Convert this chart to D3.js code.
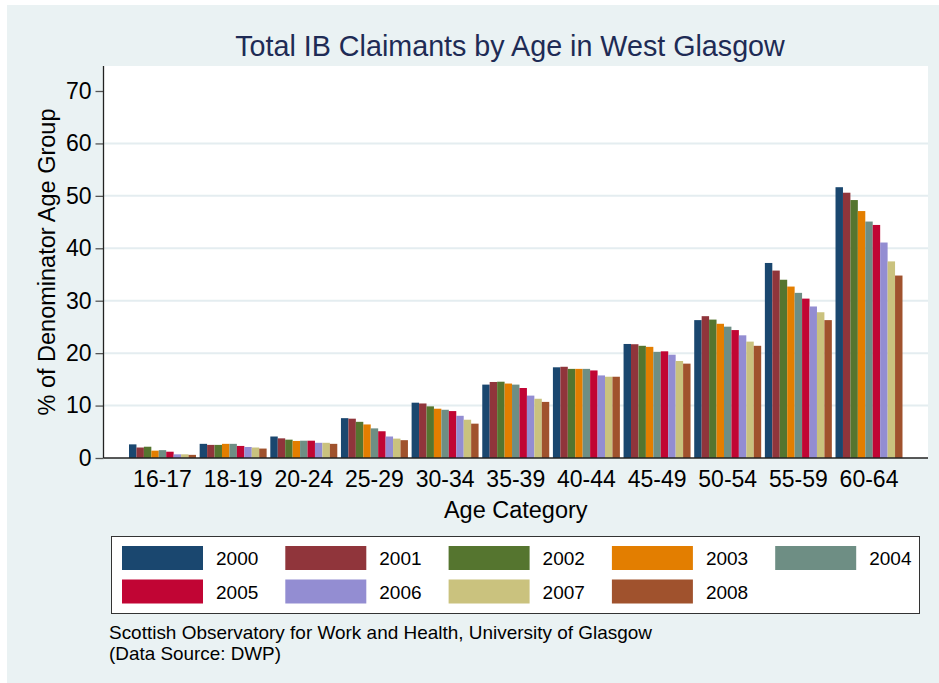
<!DOCTYPE html>
<html>
<head>
<meta charset="utf-8">
<script src="https://cdn.jsdelivr.net/npm/d3@7"></script>
<style>
  html, body { margin: 0; padding: 0; background: #ffffff; }
  svg { display: block; font-family: "Liberation Sans", Arial, Helvetica, sans-serif; }
</style>
</head>
<body>
<svg id="chart" width="939" height="683"></svg>
<script>
// ---- data ----
const categories = ["16-17","18-19","20-24","25-29","30-34","35-39","40-44","45-49","50-54","55-59","60-64"];
const years = ["2000","2001","2002","2003","2004","2005","2006","2007","2008"];
const v2000 = [2.6, 2.7, 4.1, 7.6, 10.55, 14.0, 17.3, 21.75, 26.3, 37.2, 51.65];
const v2001 = [2.0, 2.5, 3.75, 7.5, 10.4, 14.5, 17.4, 21.7, 27.05, 35.75, 50.6];
const v2002 = [2.15, 2.5, 3.5, 6.9, 9.85, 14.55, 17.0, 21.4, 26.4, 34.0, 49.2];
const v2003 = [1.4, 2.7, 3.25, 6.4, 9.4, 14.2, 17.0, 21.2, 25.6, 32.7, 47.1];
const v2004 = [1.5, 2.7, 3.3, 5.65, 9.2, 14.0, 17.0, 20.25, 25.05, 31.5, 45.1];
const v2005 = [1.2, 2.3, 3.3, 5.1, 8.95, 13.35, 16.7, 20.35, 24.4, 30.4, 44.45];
const v2006 = [0.7, 2.1, 2.9, 4.1, 8.05, 11.9, 15.75, 19.7, 23.4, 28.9, 41.1];
const v2007 = [0.7, 2.0, 2.9, 3.7, 7.3, 11.3, 15.5, 18.5, 22.2, 27.8, 37.5];
const v2008 = [0.6, 1.8, 2.7, 3.4, 6.55, 10.7, 15.5, 18.0, 21.4, 26.3, 34.8];
const seriesValues = [v2000, v2001, v2002, v2003, v2004, v2005, v2006, v2007, v2008];
const colors = ["#1a476f","#90353b","#55752f","#e37e00","#6e8e84","#c10534","#938dd2","#cac27e","#a0522d"];
const yTicks = [0, 10, 20, 30, 40, 50, 60, 70];
const gridTicks = [10, 20, 30, 40, 50, 60];

const titleText = "Total IB Claimants by Age in West Glasgow";
const yTitle = "% of Denominator Age Group";
const xTitle = "Age Category";
const note1 = "Scottish Observatory for Work and Health, University of Glasgow";
const note2 = "(Data Source: DWP)";

// ---- layout ----
const svg = d3.select("#chart");
const bg = "#eaf2f3";
const plot = { left: 103.5, right: 928, top: 66, bottom: 458 };

svg.append("rect").attr("x", 7).attr("y", 5).attr("width", 932).attr("height", 678).attr("fill", bg);
svg.append("rect").attr("x", plot.left).attr("y", plot.top)
  .attr("width", plot.right - plot.left).attr("height", plot.bottom - plot.top).attr("fill", "#ffffff");

const y = d3.scaleLinear().domain([0, 70]).range([plot.bottom, 91]);
const x0 = d3.scaleBand().domain(categories).range([plot.left, plot.right])
  .paddingInner(0.052).paddingOuter(0.361);
const x1 = d3.scaleBand().domain(years).range([0, x0.bandwidth()]).padding(0);

// gridlines
svg.append("g").selectAll("line").data(gridTicks).join("line")
  .attr("x1", plot.left).attr("x2", plot.right)
  .attr("y1", d => y(d)).attr("y2", d => y(d))
  .attr("stroke", "#e4edf0").attr("stroke-width", 2);

// bars
const groups = svg.append("g").selectAll("g").data(categories).join("g")
  .attr("transform", c => `translate(${x0(c)},0)`);
groups.selectAll("rect").data((c, ci) => years.map((yr, si) => ({ yr, si, v: seriesValues[si][ci] })))
  .join("rect")
  .attr("x", d => x1(d.yr))
  .attr("width", x1.bandwidth())
  .attr("y", d => y(d.v))
  .attr("height", d => y(0) - y(d.v))
  .attr("fill", d => colors[d.si]);

// y axis
const yAxis = d3.axisLeft(y).tickValues(yTicks).tickSize(8).tickPadding(4);
const gy = svg.append("g").attr("transform", `translate(${plot.left},0)`).call(yAxis);
gy.select(".domain").remove();
gy.selectAll(".tick line").attr("stroke", "#555").attr("stroke-width", 1.3);
gy.selectAll(".tick text").attr("font-size", 23).attr("fill", "#000")
  .attr("font-family", "Liberation Sans, Arial, sans-serif");
svg.append("line").attr("x1", plot.left).attr("x2", plot.left).attr("y1", plot.top).attr("y2", plot.bottom)
  .attr("stroke", "#222").attr("stroke-width", 1.3);

// x axis
const xAxis = d3.axisBottom(x0).tickSize(0).tickPadding(13);
const gx = svg.append("g").attr("transform", `translate(0,${plot.bottom})`).call(xAxis);
gx.select(".domain").remove();
gx.selectAll(".tick text").attr("font-size", 23).attr("fill", "#000")
  .attr("font-family", "Liberation Sans, Arial, sans-serif");
svg.append("line").attr("x1", plot.left).attr("x2", plot.right).attr("y1", plot.bottom).attr("y2", plot.bottom)
  .attr("stroke", "#222").attr("stroke-width", 1.5);

// titles
svg.append("text").attr("x", 510).attr("y", 56).attr("text-anchor", "middle")
  .attr("font-size", 28.7).attr("fill", "#1e2b55").text(titleText);
svg.append("text").attr("x", (plot.left + plot.right) / 2).attr("y", 518).attr("text-anchor", "middle")
  .attr("font-size", 23.5).attr("fill", "#000").text(xTitle);
svg.append("text").attr("transform", `translate(55,${(plot.top + plot.bottom) / 2}) rotate(-90)`)
  .attr("text-anchor", "middle").attr("font-size", 23.5).attr("fill", "#000").text(yTitle);

// legend
const lg = svg.append("g");
lg.append("rect").attr("x", 111.5).attr("y", 536.5).attr("width", 808).attr("height", 77)
  .attr("fill", "#ffffff").attr("stroke", "#333").attr("stroke-width", 1);
const items = lg.selectAll("g").data(years).join("g")
  .attr("transform", (d, i) => `translate(${122 + (i % 5) * 163.3},${546 + Math.floor(i / 5) * 33.5})`);
items.append("rect").attr("width", 81).attr("height", 24).attr("fill", (d, i) => colors[i]);
items.append("text").attr("x", 94).attr("y", 19).attr("font-size", 19).attr("fill", "#000").text(d => d);

// note
svg.append("text").attr("x", 109).attr("y", 639).attr("font-size", 18.2).attr("fill", "#000")
  .attr("textLength", 543).attr("lengthAdjust", "spacingAndGlyphs").text(note1);
svg.append("text").attr("x", 109).attr("y", 660).attr("font-size", 18.2).attr("fill", "#000")
  .attr("textLength", 172).attr("lengthAdjust", "spacingAndGlyphs").text(note2);
</script>
</body>
</html>
